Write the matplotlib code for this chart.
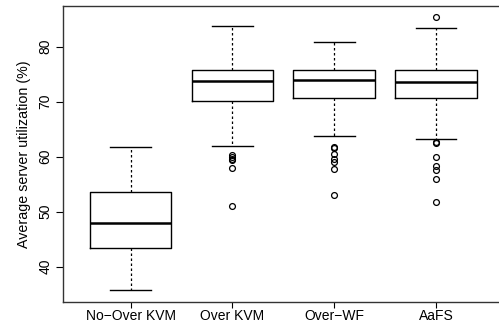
import matplotlib
matplotlib.use("Agg")
import matplotlib.pyplot as plt

plt.rcParams['font.family'] = ['Liberation Sans', 'DejaVu Sans']

categories = ["No\u2212Over KVM", "Over KVM", "Over\u2212WF", "AaFS"]
whislo = [35.7, 61.95, 63.7, 63.2]
q1 = [43.45, 70.07, 70.7, 70.7]
med = [48.0, 73.76, 74.0, 73.5]
q3 = [53.64, 75.7, 75.8, 75.8]
whishi = [61.76, 83.8, 80.9, 83.45]
fliers = [
    [],
    [60.2, 59.9, 59.6, 59.3, 58.0, 51.1],
    [61.8, 61.5, 60.5, 59.6, 59.0, 57.8, 53.1],
    [85.45, 62.7, 62.5, 60.0, 58.3, 57.6, 55.9, 51.8],
]
yticks = [40, 50, 60, 70, 80]
ylabel = "Average server utilization (%)"

stats = []
for i, c in enumerate(categories):
    stats.append(dict(label=c, whislo=whislo[i], q1=q1[i], med=med[i],
                      q3=q3[i], whishi=whishi[i], fliers=fliers[i]))

W, H = 499, 323
fig = plt.figure(figsize=(W/100, H/100), dpi=100)
left, right, top, bottom = 63.3, 503.3, 5.7, 301.7
ax = fig.add_axes([left/W, (H-bottom)/H, (right-left)/W, (bottom-top)/H])

ax.bxp(stats, positions=[1, 2, 3, 4], widths=0.8, capwidths=0.4,
       boxprops=dict(color='black', linewidth=1.0),
       medianprops=dict(color='black', linewidth=1.8),
       whiskerprops=dict(color='black', linewidth=0.9, linestyle=(0, (2, 2))),
       capprops=dict(color='black', linewidth=1.0),
       flierprops=dict(marker='o', markerfacecolor='none', markeredgecolor='black',
                       markersize=4.2, markeredgewidth=0.9))

ax.set_xlim(0.34, 4.66)
ax.set_ylim(33.6, 87.45)
ax.set_yticks(yticks)
ax.set_yticklabels([str(t) for t in yticks], rotation=90, va='center')
ax.set_xticks([1, 2, 3, 4])
ax.set_xticklabels(categories)
ax.tick_params(axis='both', direction='out', length=5, width=0.8, labelsize=10, colors='black')
ax.tick_params(axis='y', pad=3)
ax.tick_params(axis='x', length=4, pad=1)
for s in ax.spines.values():
    s.set_linewidth(1.0)
    s.set_color('#333333')
ax.set_ylabel(ylabel, fontsize=10.3, labelpad=5)

fig.savefig("out.png", dpi=100)
